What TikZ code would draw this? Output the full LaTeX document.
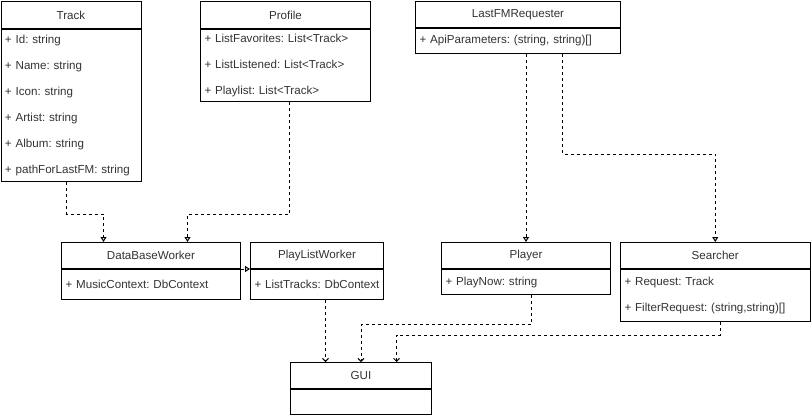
\documentclass[tikz,border=0pt]{standalone}
\usepackage{fontspec}
\setmainfont{Liberation Sans}
\usetikzlibrary{arrows.meta, positioning}

\begin{document}
\begin{tikzpicture}[x=1pt, y=-1pt, line width=1pt,
    every node/.style={font={\fontsize{11.6}{26}\selectfont\frenchspacing\hyphenpenalty 10000\relax}, text=black!80},
    classhead/.style={draw, anchor=north west, inner sep=0pt, minimum height=26pt},
    classbody/.style={draw, anchor=north west, inner xsep=4pt, inner ysep=0pt, align=left},
    dep/.style={dash pattern=on 3pt off 3pt, -{Triangle[open, length=5pt, width=6pt]}},
    use/.style={dash pattern=on 3pt off 3pt, -{Straight Barb[length=3pt, width=6pt]}}]
    \useasboundingbox (0,0) rectangle (811,415);

    \node[classhead, minimum width=140pt, minimum height=27pt] (trackhead) at (0.5,1) {Track};
    \node[classbody, text width=132pt, minimum height=152pt] (trackbody) at (trackhead.south west) {
      + Id: string\\ + Name: string\\ + Icon: string\\ + Artist: string\\ + Album: string\\ + pathForLastFM: string};

    \node[classhead, minimum width=170pt, minimum height=27pt] (profilehead) at (200,1) {Profile};
    \node[classbody, text width=162pt, minimum height=72pt] (profilebody) at (profilehead.south west) {
      + ListFavorites: List<Track>\\ + ListListened: List<Track>\\ + Playlist: List<Track>};

    \node[classhead, minimum width=205pt] (lfmhead) at (415,1) {LastFMRequester};
    \node[classbody, text width=197pt, minimum height=25pt] (lfmbody) at (lfmhead.south west) {+ ApiParameters: (string, string)[]};

    \node[classhead, minimum width=179pt] (dbwhead) at (61,242) {DataBaseWorker};
    \node[classbody, text width=171pt, minimum height=30pt] (dbwbody) at (dbwhead.south west) {+ MusicContext: DbContext};

    \node[classhead, minimum width=133pt] (plwhead) at (250,242) {PlayListWorker};
    \node[classbody, text width=125pt, minimum height=30pt] (plwbody) at (plwhead.south west) {\mbox{+ ListTracks: DbContext}};

    \node[classhead, minimum width=169pt] (playerhead) at (441,242) {Player};
    \node[classbody, text width=161pt, minimum height=25pt] (playerbody) at (playerhead.south west) {+ PlayNow: string};

    \node[classhead, minimum width=189.5pt] (searcherhead) at (620,242) {Searcher};
    \node[classbody, text width=181.5pt, minimum height=52pt] (searcherbody) at (searcherhead.south west) {
      + Request: Track\\ + FilterRequest: (string,string)[]};

    \node[classhead, minimum width=141pt] (guihead) at (290,362) {GUI};
    \node[classbody, text width=133pt, minimum height=25pt] (guibody) at (guihead.south west) {};

    \draw[dep] ([xshift=-4.5pt]trackbody.south) -- ++(0,32) -| ([xshift=-47.5pt]dbwhead.north);
    \draw[dep] ([xshift=4pt]profilebody.south) -- ++(0,112) -| ([xshift=36.5pt]dbwhead.north);
    \draw[dep] (dbwbody.north east) -- (plwbody.north west);
    \draw[dep] (lfmbody.south -| playerhead.north) -- (playerhead.north);
    \draw[dep] ([xshift=44.5pt]lfmbody.south) -- ++(0,100) -| (searcherhead.north);

    \draw[use] ([xshift=8.5pt]plwbody.south) -- ([xshift=-35.5pt]guihead.north);
    \draw[use] ([xshift=5.5pt]playerbody.south) -- ++(0,29) -| (guihead.north);
    \draw[use] ([xshift=5pt]searcherbody.south) -- ++(0,13) -| ([xshift=35.5pt]guihead.north);
\end{tikzpicture}
\end{document}
